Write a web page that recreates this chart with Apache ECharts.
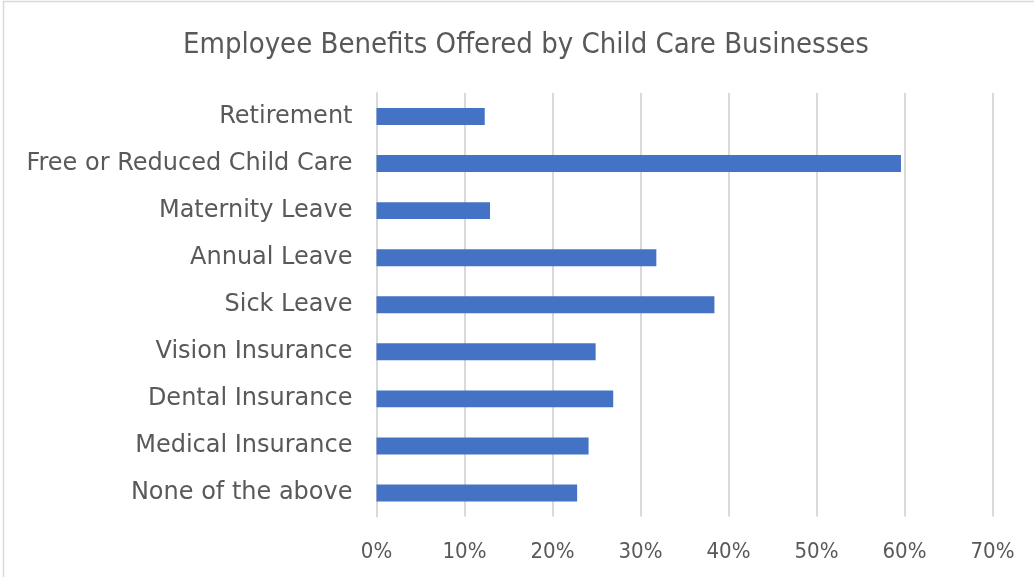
<!DOCTYPE html>
<html>
<head>
<meta charset="utf-8">
<script src="https://cdn.jsdelivr.net/npm/echarts@6/dist/echarts.min.js"></script>
<style>
  html, body { margin: 0; padding: 0; background: #ffffff; }
  #chart { width: 1034px; height: 577px; }
</style>
</head>
<body>
<div id="chart"></div>
<script>
// Benefit categories, listed bottom to top as drawn on the category axis
const categories = [
  'None of the above',
  'Medical Insurance',
  'Dental Insurance',
  'Vision Insurance',
  'Sick Leave',
  'Annual Leave',
  'Maternity Leave',
  'Free or Reduced Child Care',
  'Retirement'
];

// Share of businesses offering each benefit (%)
const shares = [22.8, 24.1, 26.9, 24.9, 38.4, 31.8, 12.9, 59.6, 12.3];

// Value-axis ticks (%)
const ticks = [0, 10, 20, 30, 40, 50, 60, 70];

const font = '"DejaVu Sans", sans-serif';
const condensed = '"DejaVu Sans Condensed", "DejaVu Sans", sans-serif';
const textColor = '#595959';

const chart = echarts.init(document.getElementById('chart'));
chart.setOption({
  animation: false,
  backgroundColor: '#ffffff',
  graphic: [{
    type: 'rect',
    shape: { x: 3.5, y: 1.5, width: 1100, height: 700 },
    style: { fill: 'none', stroke: '#d9d9d9', lineWidth: 1.5 },
    silent: true
  }],
  title: {
    text: 'Employee Benefits Offered by Child Care Businesses',
    left: 178,
    top: 26,
    textStyle: { fontFamily: condensed, fontWeight: 'normal', fontSize: 29, color: textColor }
  },
  grid: { left: 376.5, right: 41.5, top: 93, bottom: 60.5, containLabel: false },
  xAxis: {
    type: 'value',
    min: ticks[0],
    max: ticks[ticks.length - 1],
    interval: 10,
    axisLine: { show: false },
    axisTick: { show: false },
    splitLine: { show: true, lineStyle: { color: '#d9d9d9', width: 2 } },
    axisLabel: {
      formatter: v => v + '%',
      fontFamily: condensed, fontSize: 22, color: textColor, margin: 25
    }
  },
  yAxis: {
    type: 'category',
    data: categories,
    axisLine: { show: true, lineStyle: { color: '#d9d9d9', width: 2 } },
    axisTick: { show: false },
    axisLabel: { fontFamily: font, fontSize: 24, color: textColor, margin: 24 }
  },
  series: [{
    type: 'bar',
    data: shares,
    barWidth: '36%',
    itemStyle: { color: '#4472c4' }
  }]
});
</script>
</body>
</html>
